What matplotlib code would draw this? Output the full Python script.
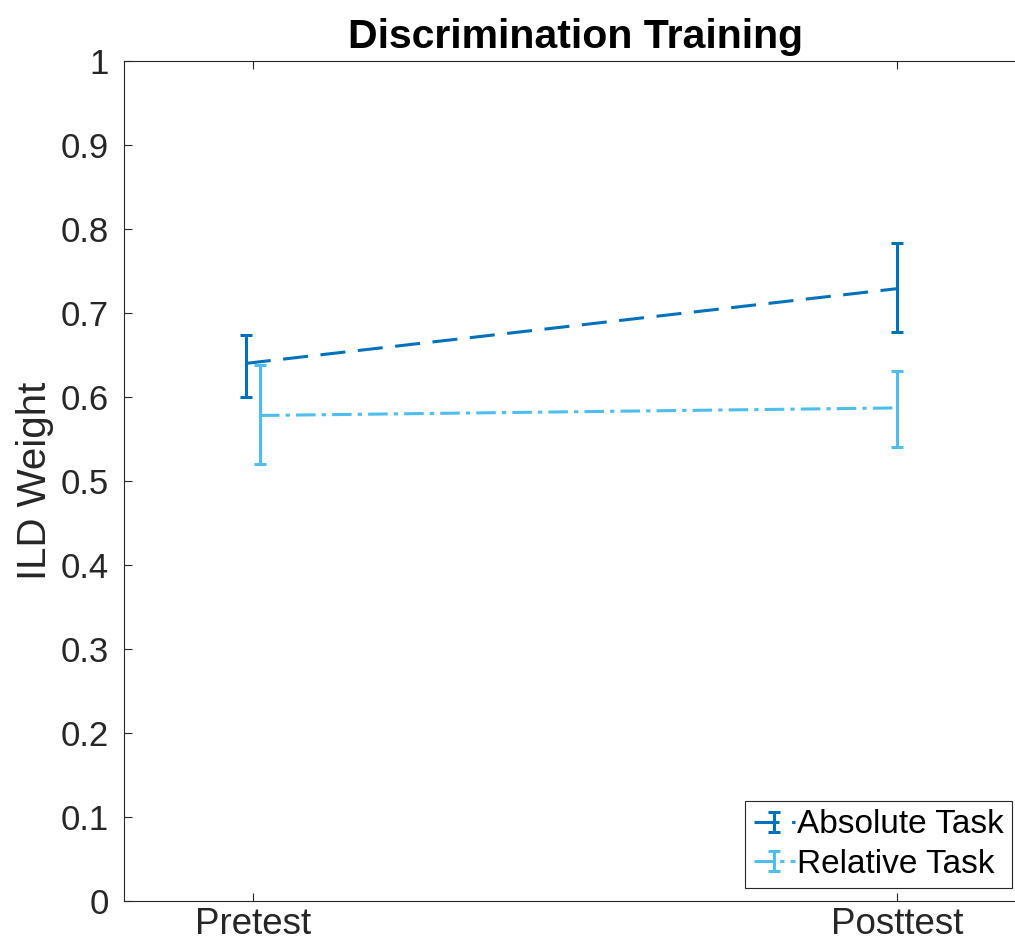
import matplotlib
matplotlib.use("Agg")
import matplotlib.pyplot as plt
from matplotlib.legend_handler import HandlerErrorbar

plt.rcParams["font.family"] = ["Liberation Sans", "DejaVu Sans"]

# ILD weights, pretest vs posttest, with error bar limits
phases = ["Pretest", "Posttest"]
abs_x = [0.989, 2.0]
abs_mean = [0.640, 0.729]
abs_lo = [0.600, 0.677]
abs_hi = [0.674, 0.783]

rel_x = [1.011, 2.0]
rel_mean = [0.578, 0.587]
rel_lo = [0.520, 0.540]
rel_hi = [0.638, 0.631]

ABS_COLOR = "#0072BD"
REL_COLOR = "#4DBEEE"
AX_GRAY = "#262626"

fig = plt.figure(figsize=(10.15, 9.52), dpi=100)
ax = fig.add_axes([124 / 1015, 51 / 952, 902 / 1015, 840 / 952])

abs_err = [[m - lo for m, lo in zip(abs_mean, abs_lo)],
           [hi - m for m, hi in zip(abs_mean, abs_hi)]]
rel_err = [[m - lo for m, lo in zip(rel_mean, rel_lo)],
           [hi - m for m, hi in zip(rel_mean, rel_hi)]]

eb1 = ax.errorbar(abs_x, abs_mean, yerr=abs_err, color=ABS_COLOR, lw=2.2,
                  capsize=4.5, capthick=2.2, elinewidth=2.2, label="Absolute Task")
eb1.lines[0].set_dashes((8.2, 4.1))
eb2 = ax.errorbar(rel_x, rel_mean, yerr=rel_err, color=REL_COLOR, lw=2.2,
                  capsize=4.5, capthick=2.2, elinewidth=2.2, label="Relative Task")
eb2.lines[0].set_dashes((6.4, 2.0, 1.4, 2.0))

ax.set_xlim(0.8, 2.2)
ax.set_ylim(0, 1)
ax.set_xticks([1, 2])
ax.set_xticklabels(phases)
ax.set_yticks([i / 10 for i in range(11)])
ax.set_yticklabels(["0"] + [f"{i / 10:.1f}" for i in range(1, 10)] + ["1"])

for s in ax.spines.values():
    s.set_color(AX_GRAY)
    s.set_linewidth(0.8)
ax.tick_params(direction="in", length=6, width=0.8, colors=AX_GRAY,
               labelsize=25, top=True, right=True)
ax.tick_params(axis="y", pad=11)
ax.tick_params(axis="x", pad=4, labelsize=26.5)

ax.set_ylabel("ILD Weight", fontsize=29, color=AX_GRAY, labelpad=5)
ax.set_title("Discrimination Training", fontsize=29.5, fontweight="bold",
             pad=9)

leg = ax.legend(loc="lower right", bbox_to_anchor=(1012 / 1015, 64 / 952),
                bbox_transform=fig.transFigure, fontsize=24, frameon=True,
                fancybox=False, framealpha=1, edgecolor=AX_GRAY,
                handlelength=1.25, handletextpad=0.05, borderpad=0.25,
                labelspacing=0.25, borderaxespad=0,
                handler_map={eb1: HandlerErrorbar(xerr_size=0.3),
                             eb2: HandlerErrorbar(xerr_size=0.3)})
leg.get_frame().set_linewidth(0.8)

fig.savefig("out.png", dpi=100)
